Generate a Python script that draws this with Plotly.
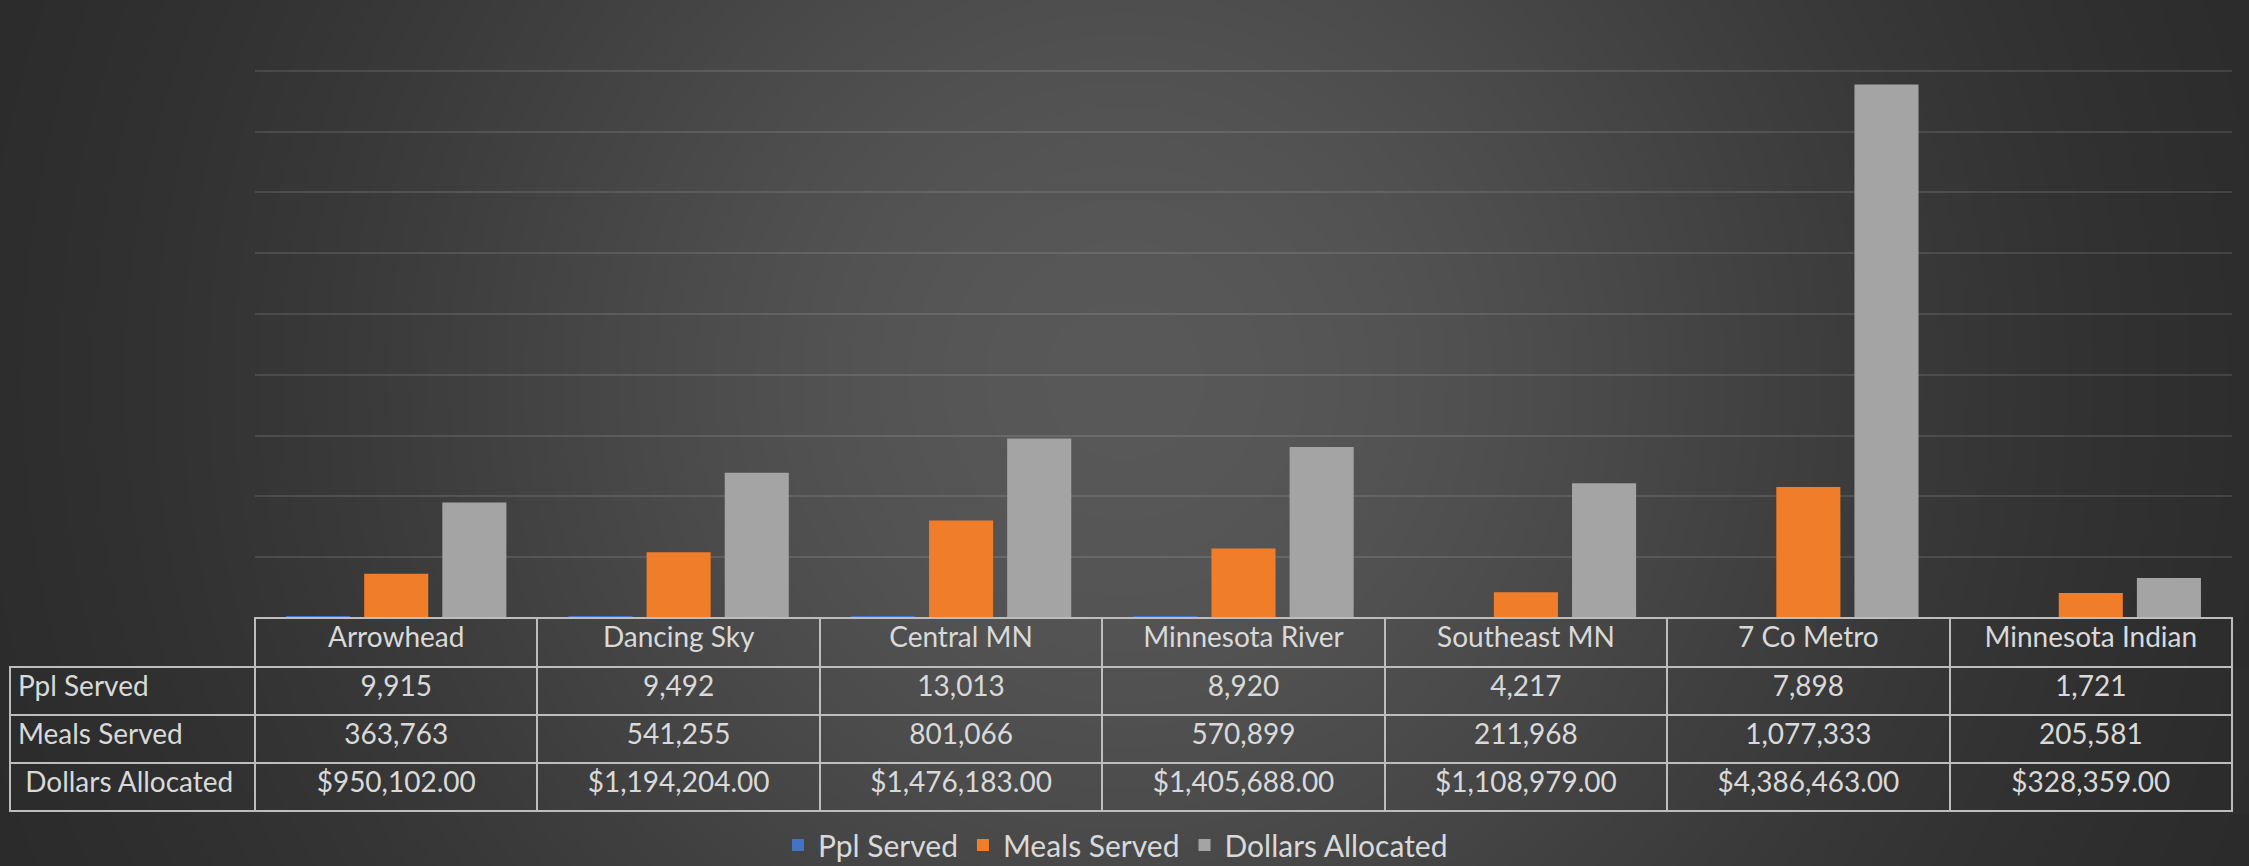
import numpy as np
import plotly.graph_objects as go

# ---------------- data ----------------
categories = ["Arrowhead", "Dancing Sky", "Central MN", "Minnesota River",
              "Southeast MN", "7 Co Metro", "Minnesota Indian"]
ppl_served = [9915, 9492, 13013, 8920, 4217, 7898, 1721]
meals_served = [363763, 541255, 801066, 570899, 211968, 1077333, 205581]
dollars_allocated = [950102.00, 1194204.00, 1476183.00, 1405688.00,
                     1108979.00, 4386463.00, 328359.00]
series_names = ["Ppl Served", "Meals Served", "Dollars Allocated"]
row_labels = ["Ppl Served", "Meals Served", "\u00a0Dollars Allocated"]

# ---------------- style / layout ----------------
W, H = 2249, 866
series_colors = ["#4472C4", "#F07D2A", "#A4A4A4"]
text_color = "#D9D9D9"
font_family = "Lato, 'Open Sans', sans-serif"
table_font_size = 28
legend_font_size = 30

plot_left, plot_right = 255, 2232
plot_top, plot_bottom = 10, 618
table_left, table_bottom = 10, 814


def px_x(v):
    return v / W


def px_y(v):
    return (H - v) / H


fig = go.Figure()

# background radial gradient (decorative)
gx = np.linspace(0, 1, 90)
gy = np.linspace(0, 1, 40)
GX, GY = np.meshgrid(gx * W, (1 - gy) * H)
r = np.sqrt((GX - 1124) ** 2 + (GY - 380) ** 2)
shade = 38 + 50 * np.exp(-(r / 800.0) ** 2)
fig.add_trace(go.Heatmap(
    x=gx, y=gy, z=shade, zmin=38, zmax=88, zsmooth="best",
    colorscale=[[0, "rgb(38,38,38)"], [1, "rgb(88,88,88)"]],
    showscale=False, hoverinfo="skip", xaxis="x", yaxis="y",
    showlegend=False,
))

# bars
for name, vals, col in zip(series_names,
                           [ppl_served, meals_served, dollars_allocated],
                           series_colors):
    fig.add_trace(go.Bar(
        x=categories, y=vals, name=name, marker_color=col,
        marker_line_width=0, xaxis="x2", yaxis="y2",
    ))

# data table
col_vals = [row_labels]
for p, m, d in zip(ppl_served, meals_served, dollars_allocated):
    col_vals.append([f"{p:,}", f"{m:,}", f"${d:,.2f}"])

border = "#BDBDBD"
fig.add_trace(go.Table(
    domain=dict(x=[px_x(table_left), px_x(plot_right)],
                y=[px_y(table_bottom), px_y(plot_bottom)]),
    columnwidth=[plot_left - table_left] + [(plot_right - plot_left) / 7] * 7,
    header=dict(
        values=[""] + categories,
        height=49,
        align="center",
        fill_color="rgba(0,0,0,0)",
        line=dict(color=["rgba(0,0,0,0)"] + [border] * 7, width=2),
        font=dict(family=font_family, size=table_font_size, color=text_color),
    ),
    cells=dict(
        values=col_vals,
        height=48,
        align=["left"] + ["center"] * 7,
        fill_color="rgba(0,0,0,0)",
        line=dict(color=border, width=2),
        font=dict(family=font_family, size=table_font_size, color=text_color),
    ),
))

fig.update_layout(
    width=W, height=H,
    margin=dict(l=0, r=0, t=0, b=0, autoexpand=False),
    paper_bgcolor="#2b2b2b",
    plot_bgcolor="rgba(0,0,0,0)",
    barmode="group",
    bargap=0.17,
    bargroupgap=0.18,
    font=dict(family=font_family, size=table_font_size, color=text_color),
    xaxis=dict(domain=[0, 1], range=[0, 1], visible=False, fixedrange=True),
    yaxis=dict(domain=[0, 1], range=[0, 1], visible=False, fixedrange=True),
    xaxis2=dict(domain=[px_x(plot_left), px_x(plot_right)], anchor="y2",
                type="category", showticklabels=False, showgrid=False,
                zeroline=False, showline=False, ticks=""),
    yaxis2=dict(domain=[px_y(plot_bottom), px_y(plot_top)], anchor="x2",
                range=[0, 5000000], dtick=500000, showticklabels=False,
                showgrid=True, gridcolor="rgba(255,255,255,0.11)", gridwidth=2,
                zeroline=False, showline=False, ticks=""),
    legend=dict(orientation="h", x=0.496, xanchor="center",
                y=px_y(845), yanchor="middle",
                bgcolor="rgba(0,0,0,0)",
                font=dict(family=font_family, size=legend_font_size,
                          color=text_color)),
    showlegend=True,
)

fig.write_html(
    "out.html",
    config={"displayModeBar": False},
    post_script="document.body.style.margin='0';document.body.style.overflow='hidden';",
)
